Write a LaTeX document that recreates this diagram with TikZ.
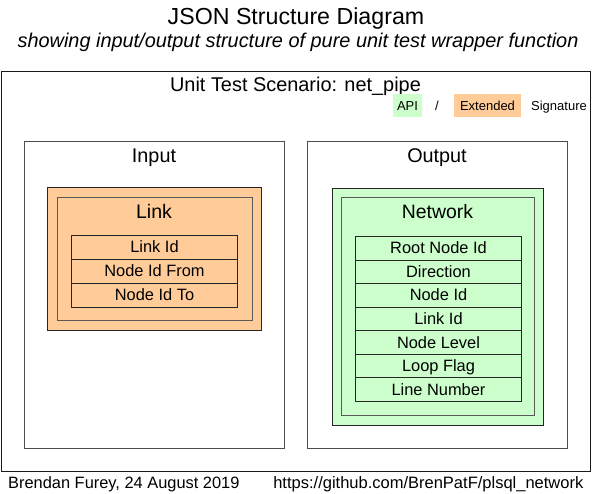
\documentclass[tikz,border=0pt]{standalone}
\usepackage{fontspec}
\setmainfont{Liberation Sans}
\definecolor{peach}{HTML}{FFCC99}
\definecolor{mint}{HTML}{CCFFCC}
\tikzset{
  frame/.style={draw=black!90, line width=1pt, rectangle, inner sep=0pt, anchor=north west},
  group/.style={draw=black!70, line width=1pt, rectangle, inner sep=0pt, anchor=north west},
  objout/.style={draw=black!85, line width=1pt, rectangle, inner sep=0pt, anchor=north west},
  objin/.style={draw=black!65, line width=1.2pt, rectangle, inner sep=0pt, anchor=north west},
  field/.style={draw=black!85, line width=1pt, rectangle, inner sep=0pt, anchor=north west,
    minimum width=166pt, font=\fontsize{16.4}{18}\selectfont, text height=12pt, text depth=1pt},
  lbl/.style={inner sep=0pt, anchor=base},
  legendbox/.style={rectangle, inner sep=0pt, minimum height=23pt, text height=9.5pt, text depth=0pt,
    font=\fontsize{13}{15}\selectfont},
}
\begin{document}
\begin{tikzpicture}[x=1pt,y=-1pt]
\useasboundingbox[fill=white] (0,0) rectangle (592,494);
% titles
\node[lbl, font=\fontsize{23.2}{27}\selectfont] (title) at (296,24.3) {JSON Structure Diagram};
\node[lbl, font=\fontsize{19.9}{24}\selectfont\itshape] (subtitle) at (298,47.3) {showing input/output structure of pure unit test wrapper function};
% scenario frame
\node[frame, minimum width=589.5pt, minimum height=399.5pt] (scen) at (0.5,71) {};
\node[lbl, font=\fontsize{19.9}{24}\selectfont] (scenlbl) at (295.5,91.7) {Unit Test Scenario: net\_pipe};
% legend
\node[legendbox, fill=mint, minimum width=29pt] (api) at (407.5,105.5) {API};
\node[legendbox] (slash) at (437,105.5) {/};
\node[legendbox, fill=peach, minimum width=67pt] (ext) at (487.5,105.5) {Extended};
\node[legendbox] (sig) at (559,105.5) {Signature};
% input / output groups
\node[group, minimum width=260pt, minimum height=307pt] (inbox) at (24,141) {};
\node[lbl, font=\fontsize{19.8}{24}\selectfont] (inlbl) at (154,162.5) {Input};
\node[group, minimum width=260pt, minimum height=307pt] (outbox) at (307,141) {};
\node[lbl, font=\fontsize{19.8}{24}\selectfont] (outlbl) at (437,162.5) {Output};
% link object
\node[objout, fill=peach, minimum width=214pt, minimum height=143pt] (linkout) at (47,187) {};
\node[objin, minimum width=195pt, minimum height=123pt] (linkin) at (57,197) {};
\node[lbl, font=\fontsize{19.6}{24}\selectfont] (linklbl) at (154,219) {Link};
\node[field, minimum height=24pt] (l1) at (71,235) {Link Id};
\node[field, minimum height=24pt] (l2) at (71,259) {Node Id From};
\node[field, minimum height=24pt] (l3) at (71,283) {Node Id To};
% network object
\node[objout, fill=mint, minimum width=211pt, minimum height=237pt] (netout) at (332,188) {};
\node[objin, minimum width=193pt, minimum height=218pt] (netin) at (341,197) {};
\node[lbl, font=\fontsize{19.4}{24}\selectfont] (netlbl) at (437.5,219) {Network};
\node[field, minimum height=23.57pt] (n1) at (355,236) {Root Node Id};
\node[field, minimum height=23.57pt] (n2) at (355,259.57) {Direction};
\node[field, minimum height=23.57pt] (n3) at (355,283.14) {Node Id};
\node[field, minimum height=23.57pt] (n4) at (355,306.71) {Link Id};
\node[field, minimum height=23.57pt] (n5) at (355,330.28) {Node Level};
\node[field, minimum height=23.57pt] (n6) at (355,353.85) {Loop Flag};
\node[field, minimum height=23.57pt] (n7) at (355,377.42) {Line Number};
% footer
\node[inner sep=0pt, anchor=base west, font=\fontsize{16.4}{19}\selectfont] (author) at (8,488.3) {Brendan Furey, 24 August 2019};
\node[inner sep=0pt, anchor=base east, font=\fontsize{16.5}{19}\selectfont] (url) at (583.5,488.3) {https://github.com/BrenPatF/plsql\_network};
\end{tikzpicture}
\end{document}
